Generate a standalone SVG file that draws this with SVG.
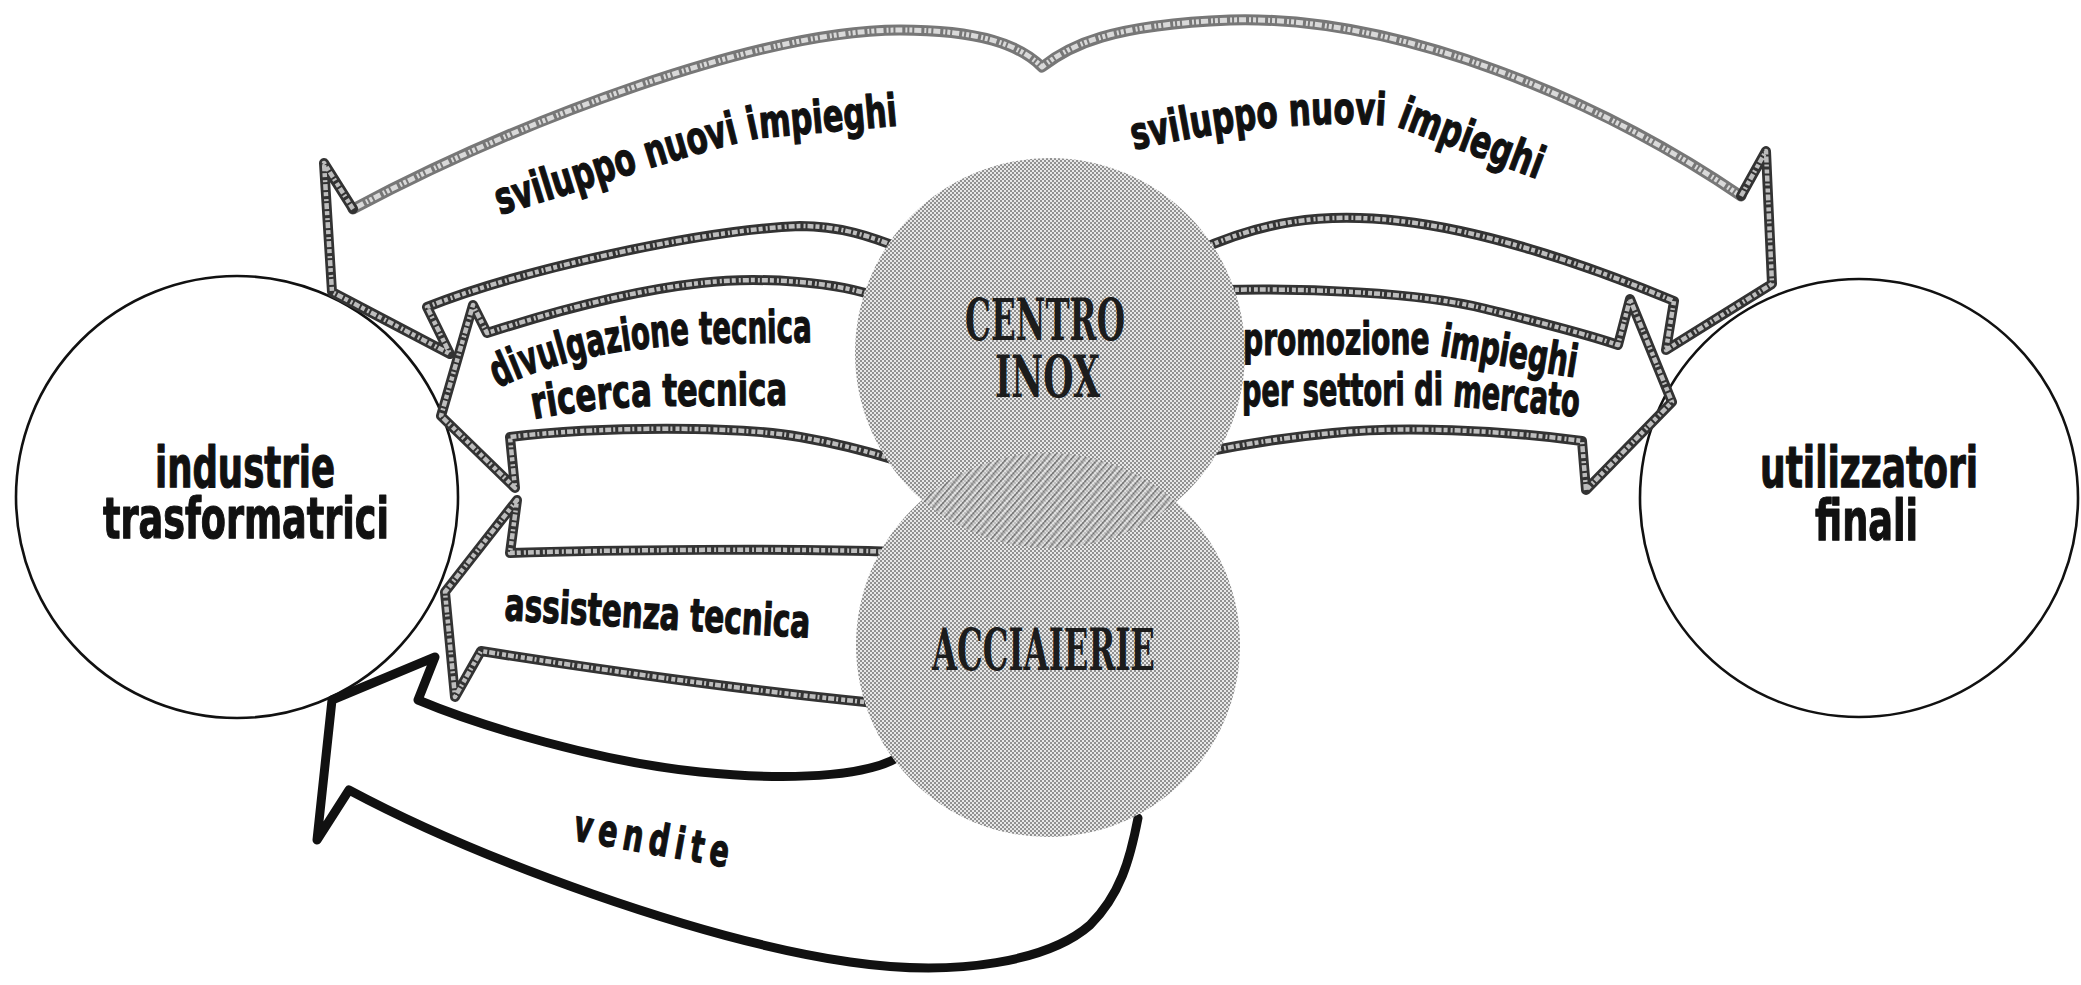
<svg xmlns="http://www.w3.org/2000/svg" xmlns:xlink="http://www.w3.org/1999/xlink" width="2081" height="985" viewBox="0 0 2081 985">
<style>
.node-ring{fill:#fff;stroke:#111;stroke-width:2.6}
.tube-o{fill:none;stroke:#333;stroke-width:10;stroke-linejoin:round;stroke-linecap:round}
.tube-i{fill:none;stroke:#bdbdbd;stroke-width:4.5;stroke-linejoin:round;stroke-linecap:butt;stroke-dasharray:6 2 2 3 4 2}
.arc-o{fill:none;stroke:#777;stroke-width:11;stroke-linejoin:round;stroke-linecap:round}
.arc-i{fill:none;stroke:#d9d9d9;stroke-width:5;stroke-linejoin:round;stroke-dasharray:3 2 7 3 2 2}
.black{fill:none;stroke:#111;stroke-width:9;stroke-linejoin:round;stroke-linecap:round}
.lbl{font-family:"Liberation Sans Narrow","DejaVu Sans Condensed","Liberation Sans",Arial,sans-serif;font-weight:700;fill:#111;stroke:#111;stroke-width:1.2;stroke-linejoin:round}
.node-lbl{font-size:57px}
.edge-lbl{font-size:45px}
.sten{font-family:"DejaVu Serif","Liberation Serif",serif;font-weight:700;fill:#1c1c1c;font-size:58px}
</style>
<defs>
<pattern id="ht" width="4" height="4" patternUnits="userSpaceOnUse">
<rect width="4" height="4" fill="#e8e8e8"/>
<circle cx="1" cy="1" r="0.8" fill="#222"/>
<circle cx="3" cy="3" r="0.8" fill="#222"/>
</pattern>
<pattern id="hatch" width="5" height="5" patternUnits="userSpaceOnUse" patternTransform="rotate(40)">
<rect width="5" height="5" fill="#dedede"/>
<rect width="1.6" height="5" fill="#555"/>
</pattern>
<clipPath id="clipA"><circle cx="1048" cy="645" r="192"/></clipPath>
<path id="p-arc" d="M353,209 C520,120 760,30 900,30 C980,30 1020,45 1042,67 C1070,45 1110,25 1230,20 C1400,15 1600,100 1741,196"/>
<path id="p-svl" d="M905,250 C870,236 840,226 800,226 C700,230 520,270 427,307 L450,354 L332,292 L324,163 L353,209"/>
<path id="p-svr" d="M1741,196 L1766,151 L1772,284 L1666,350 L1674,301 C1580,262 1480,230 1400,221 C1320,212 1260,222 1195,252"/>
<path id="p-div" d="M880,298 C840,282 760,276 701,283 C620,292 540,316 487,333 L473,305 L441,416 L515,488 L510,437 C600,426 740,426 800,437 C840,444 870,452 895,460"/>
<path id="p-ass" d="M895,552 C800,548 600,550 510,553 L517,500 L445,592 L455,697 L481,651 C600,670 760,692 875,703"/>
<path id="p-pro" d="M1222,290 C1300,288 1420,292 1486,309 C1530,320 1580,332 1618,345 L1630,299 L1672,402 L1586,490 L1582,441 C1500,430 1400,426 1333,433 C1290,437 1250,443 1205,452"/>
<path id="p-ven" d="M905,752 C880,775 800,782 700,772 C600,762 480,726 418,700 L435,657 L332,700 L317,840 L349,790 C480,860 700,940 850,962 C960,978 1050,960 1090,925 C1120,895 1130,860 1138,818"/>
<path id="tp-svl" d="M500,215 C600,185 700,150 760,138 L915,124"/>
<path id="tp-svr" d="M1134,150 C1200,135 1300,118 1395,126 L1550,184"/>
<path id="tp-div" d="M498,388 C540,368 600,348 700,344 L825,342"/>
<path id="tp-ric" d="M534,419 C570,412 620,406 660,406 L795,405"/>
<path id="tp-ass" d="M504,620 L816,638"/>
<path id="tp-pro" d="M1243,355 L1430,354 L1585,379"/>
<path id="tp-per" d="M1242,406 L1440,405 L1585,417"/>
</defs>
<rect width="2081" height="985" fill="#fff"/>

<g id="node-industrie">
<circle class="node-ring" cx="237" cy="497" r="221"/>
<text class="lbl node-lbl" x="155" y="487" textLength="180" lengthAdjust="spacingAndGlyphs">industrie</text>
<text class="lbl node-lbl" x="103" y="538" textLength="286" lengthAdjust="spacingAndGlyphs">trasformatrici</text>
</g>

<g id="node-utilizzatori">
<circle class="node-ring" cx="1859" cy="498" r="219"/>
<text class="lbl node-lbl" x="1760" y="487" textLength="218" lengthAdjust="spacingAndGlyphs">utilizzatori</text>
<text class="lbl node-lbl" x="1815" y="540" textLength="103" lengthAdjust="spacingAndGlyphs">finali</text>
</g>

<g id="connectors">
<g id="edge-sviluppo">
<use href="#p-arc" class="arc-o"/><use href="#p-arc" class="arc-i"/>
<use href="#p-svl" class="tube-o"/><use href="#p-svl" class="tube-i"/>
<use href="#p-svr" class="tube-o"/><use href="#p-svr" class="tube-i"/>
</g>
<g id="edge-divulgazione">
<use href="#p-div" class="tube-o"/><use href="#p-div" class="tube-i"/>
</g>
<g id="edge-assistenza">
<use href="#p-ass" class="tube-o"/><use href="#p-ass" class="tube-i"/>
</g>
<g id="edge-promozione">
<use href="#p-pro" class="tube-o"/><use href="#p-pro" class="tube-i"/>
</g>
<g id="edge-vendite">
<use href="#p-ven" class="black"/>
</g>
</g>

<g id="node-acciaierie">
<circle cx="1048" cy="645" r="192" fill="url(#ht)"/>
<text class="sten" x="932" y="670" textLength="223" lengthAdjust="spacingAndGlyphs">ACCIAIERIE</text>
</g>

<g id="node-centro-inox">
<circle cx="1050" cy="353" r="195" fill="url(#ht)"/>
<circle cx="1050" cy="353" r="195" fill="url(#hatch)" clip-path="url(#clipA)" opacity="0.6"/>
<text class="sten" x="965" y="340" textLength="160" lengthAdjust="spacingAndGlyphs">CENTRO</text>
<text class="sten" x="995" y="397" textLength="105" lengthAdjust="spacingAndGlyphs">INOX</text>
</g>

<g id="edge-labels">
<text class="lbl edge-lbl"><textPath href="#tp-svl" textLength="410" lengthAdjust="spacingAndGlyphs">sviluppo nuovi impieghi</textPath></text>
<text class="lbl edge-lbl"><textPath href="#tp-svr" textLength="415" lengthAdjust="spacingAndGlyphs">sviluppo nuovi impieghi</textPath></text>
<text class="lbl edge-lbl"><textPath href="#tp-div" textLength="320" lengthAdjust="spacingAndGlyphs">divulgazione tecnica</textPath></text>
<text class="lbl edge-lbl"><textPath href="#tp-ric" textLength="254" lengthAdjust="spacingAndGlyphs">ricerca tecnica</textPath></text>
<text class="lbl edge-lbl"><textPath href="#tp-ass" textLength="306" lengthAdjust="spacingAndGlyphs">assistenza tecnica</textPath></text>
<text class="lbl edge-lbl"><textPath href="#tp-pro" textLength="334" lengthAdjust="spacingAndGlyphs">promozione impieghi</textPath></text>
<text class="lbl edge-lbl"><textPath href="#tp-per" textLength="337" lengthAdjust="spacingAndGlyphs">per settori di mercato</textPath></text>
<text class="lbl" font-size="44" x="0" y="0" transform="translate(572 840) rotate(10) scale(0.72 1)" textLength="218" lengthAdjust="spacing">vendite</text>
</g>
</svg>
